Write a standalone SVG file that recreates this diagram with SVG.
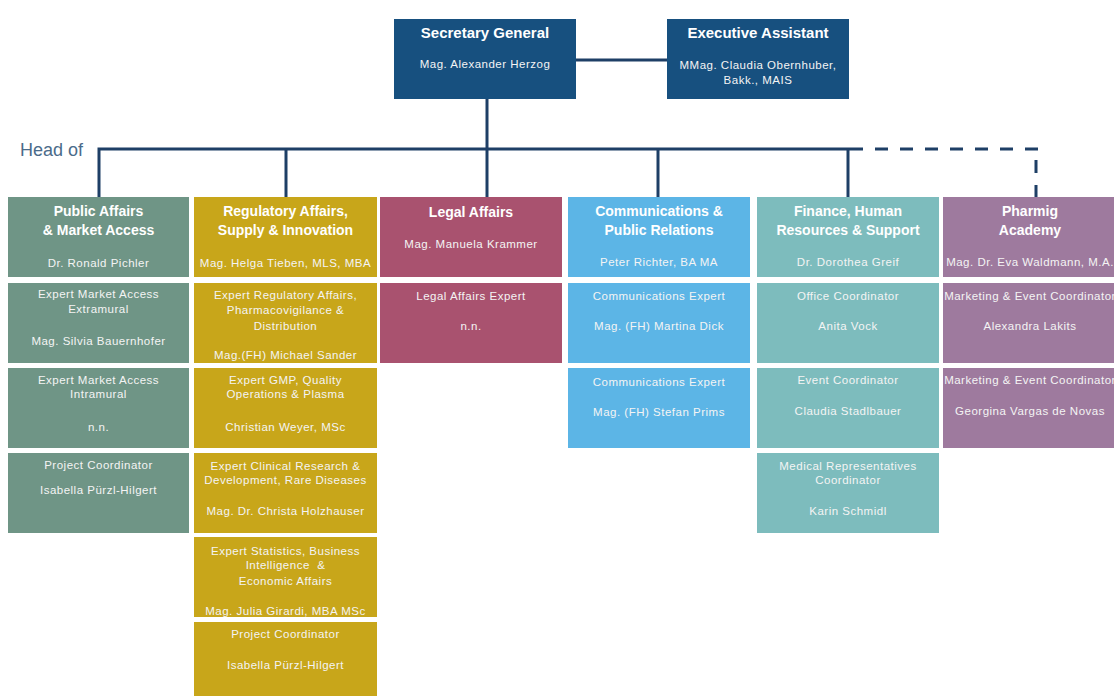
<svg xmlns="http://www.w3.org/2000/svg" width="1114" height="696" viewBox="0 0 1114 696">
<style>
.t{font-family:"Liberation Sans",Arial,sans-serif;fill:#ffffff;text-anchor:middle}
.h{font-size:14px;font-weight:bold}
.ht{font-size:15px;font-weight:bold}
.s{font-size:11.5px;letter-spacing:0.5px;fill:#f4f4f4}
.ln{stroke:#1e3f66;stroke-width:3;fill:none}
.dl{stroke:#1e3f66;stroke-width:3;fill:none;stroke-dasharray:13 12}
.nv{fill:#17507f}
.c1{fill:#6f9586}
.c2{fill:#c8a61a}
.c3{fill:#a9526f}
.c4{fill:#5cb5e6}
.c5{fill:#7dbcbd}
.c6{fill:#9e7a9e}
</style>
<rect width="1114" height="696" fill="#ffffff"/>
<g id="connectors">
<line class="ln" x1="576" y1="60" x2="667" y2="60"/>
<line class="ln" x1="487" y1="99" x2="487" y2="198"/>
<polyline class="ln" points="99,198 99,149 863,149"/>
<line class="ln" x1="286" y1="149" x2="286" y2="198"/>
<line class="ln" x1="658" y1="149" x2="658" y2="198"/>
<line class="ln" x1="848" y1="149" x2="848" y2="198"/>
<line class="dl" x1="875" y1="149" x2="1040" y2="149"/>
<line class="dl" x1="1036" y1="160" x2="1036" y2="198"/>
</g>
<text x="20" y="156" font-family="Liberation Sans,Arial,sans-serif" font-size="18" fill="#4b6b8a">Head of</text>
<g id="secretary-general">
<rect class="nv" x="394" y="19" width="182" height="80"/>
<text class="t ht" x="485" y="38">Secretary General</text>
<text class="t s" x="485" y="68">Mag.  Alexander Herzog</text>
</g>
<g id="executive-assistant">
<rect class="nv" x="667" y="19" width="182" height="80"/>
<text class="t ht" x="758" y="38">Executive Assistant</text>
<text class="t s" x="758" y="69">MMag.  Claudia Obernhuber,</text>
<text class="t s" x="758" y="84">Bakk., MAIS</text>
</g>
<g id="public-affairs">
<rect class="c1" x="8" y="197" width="181" height="80"/>
<text class="t h" x="98.5" y="216">Public Affairs</text>
<text class="t h" x="98.5" y="235">&amp; Market Access</text>
<text class="t s" x="98.5" y="267">Dr. Ronald Pichler</text>
</g>
<g id="expert-market-access-extramural">
<rect class="c1" x="8" y="283" width="181" height="80"/>
<text class="t s" x="98.5" y="298">Expert Market Access</text>
<text class="t s" x="98.5" y="313">Extramural</text>
<text class="t s" x="98.5" y="345">Mag. Silvia Bauernhofer</text>
</g>
<g id="expert-market-access-intramural">
<rect class="c1" x="8" y="368" width="181" height="80"/>
<text class="t s" x="98.5" y="384">Expert Market Access</text>
<text class="t s" x="98.5" y="398">Intramural</text>
<text class="t s" x="98.5" y="431">n.n.</text>
</g>
<g id="project-coordinator-1">
<rect class="c1" x="8" y="453" width="181" height="80"/>
<text class="t s" x="98.5" y="469">Project Coordinator</text>
<text class="t s" x="98.5" y="494">Isabella Pürzl-Hilgert</text>
</g>
<g id="regulatory-affairs">
<rect class="c2" x="194" y="197" width="183" height="80"/>
<text class="t h" x="285.5" y="216">Regulatory Affairs,</text>
<text class="t h" x="285.5" y="235">Supply &amp; Innovation</text>
<text class="t s" x="285.5" y="267">Mag. Helga Tieben, MLS, MBA</text>
</g>
<g id="expert-regulatory-affairs">
<rect class="c2" x="194" y="283" width="183" height="80"/>
<text class="t s" x="285.5" y="299">Expert Regulatory Affairs,</text>
<text class="t s" x="285.5" y="314">Pharmacovigilance &amp;</text>
<text class="t s" x="285.5" y="330">Distribution</text>
<text class="t s" x="285.5" y="359">Mag.(FH) Michael Sander</text>
</g>
<g id="expert-gmp">
<rect class="c2" x="194" y="368" width="183" height="80"/>
<text class="t s" x="285.5" y="384">Expert GMP,  Quality</text>
<text class="t s" x="285.5" y="398">Operations &amp; Plasma</text>
<text class="t s" x="285.5" y="431">Christian Weyer, MSc</text>
</g>
<g id="expert-clinical-research">
<rect class="c2" x="194" y="453" width="183" height="80"/>
<text class="t s" x="285.5" y="470">Expert Clinical Research &amp;</text>
<text class="t s" x="285.5" y="484">Development, Rare Diseases</text>
<text class="t s" x="285.5" y="515">Mag. Dr. Christa Holzhauser</text>
</g>
<g id="expert-statistics">
<rect class="c2" x="194" y="537" width="183" height="80"/>
<text class="t s" x="285.5" y="555">Expert Statistics, Business</text>
<text class="t s" x="285.5" y="569" xml:space="preserve">Intelligence  &amp;</text>
<text class="t s" x="285.5" y="585">Economic Affairs</text>
<text class="t s" x="285.5" y="615">Mag. Julia Girardi, MBA MSc</text>
</g>
<g id="project-coordinator-2">
<rect class="c2" x="194" y="622" width="183" height="80"/>
<text class="t s" x="285.5" y="638">Project Coordinator</text>
<text class="t s" x="285.5" y="669">Isabella Pürzl-Hilgert</text>
</g>
<g id="legal-affairs">
<rect class="c3" x="380" y="197" width="182" height="80"/>
<text class="t h" x="471" y="217">Legal Affairs</text>
<text class="t s" x="471" y="248">Mag. Manuela Krammer</text>
</g>
<g id="legal-affairs-expert">
<rect class="c3" x="380" y="283" width="182" height="80"/>
<text class="t s" x="471" y="300">Legal Affairs Expert</text>
<text class="t s" x="471" y="330">n.n.</text>
</g>
<g id="communications">
<rect class="c4" x="568" y="197" width="182" height="80"/>
<text class="t h" x="659" y="216">Communications &amp;</text>
<text class="t h" x="659" y="235">Public Relations</text>
<text class="t s" x="659" y="266">Peter Richter, BA MA</text>
</g>
<g id="communications-expert-1">
<rect class="c4" x="568" y="283" width="182" height="80"/>
<text class="t s" x="659" y="300">Communications  Expert</text>
<text class="t s" x="659" y="330">Mag.  (FH) Martina Dick</text>
</g>
<g id="communications-expert-2">
<rect class="c4" x="568" y="368" width="182" height="80"/>
<text class="t s" x="659" y="386">Communications  Expert</text>
<text class="t s" x="659" y="416">Mag.  (FH) Stefan Prims</text>
</g>
<g id="finance">
<rect class="c5" x="757" y="197" width="182" height="80"/>
<text class="t h" x="848" y="216">Finance, Human</text>
<text class="t h" x="848" y="235">Resources  &amp; Support</text>
<text class="t s" x="848" y="266">Dr. Dorothea Greif</text>
</g>
<g id="office-coordinator">
<rect class="c5" x="757" y="283" width="182" height="80"/>
<text class="t s" x="848" y="300">Office Coordinator</text>
<text class="t s" x="848" y="330">Anita Vock</text>
</g>
<g id="event-coordinator">
<rect class="c5" x="757" y="368" width="182" height="80"/>
<text class="t s" x="848" y="384">Event Coordinator</text>
<text class="t s" x="848" y="415">Claudia Stadlbauer</text>
</g>
<g id="medical-representatives-coordinator">
<rect class="c5" x="757" y="453" width="182" height="80"/>
<text class="t s" x="848" y="470">Medical Representatives</text>
<text class="t s" x="848" y="484">Coordinator</text>
<text class="t s" x="848" y="515">Karin Schmidl</text>
</g>
<g id="pharmig-academy">
<rect class="c6" x="943" y="197" width="180" height="80"/>
<text class="t h" x="1030" y="216">Pharmig</text>
<text class="t h" x="1030" y="235">Academy</text>
<text class="t s" x="1030" y="266">Mag. Dr. Eva Waldmann, M.A.</text>
</g>
<g id="marketing-event-coordinator-1">
<rect class="c6" x="943" y="283" width="180" height="80"/>
<text class="t s" x="1030" y="300">Marketing &amp; Event Coordinator</text>
<text class="t s" x="1030" y="330">Alexandra Lakits</text>
</g>
<g id="marketing-event-coordinator-2">
<rect class="c6" x="943" y="368" width="180" height="80"/>
<text class="t s" x="1030" y="384">Marketing &amp; Event Coordinator</text>
<text class="t s" x="1030" y="415">Georgina Vargas de Novas</text>
</g>
</svg>
